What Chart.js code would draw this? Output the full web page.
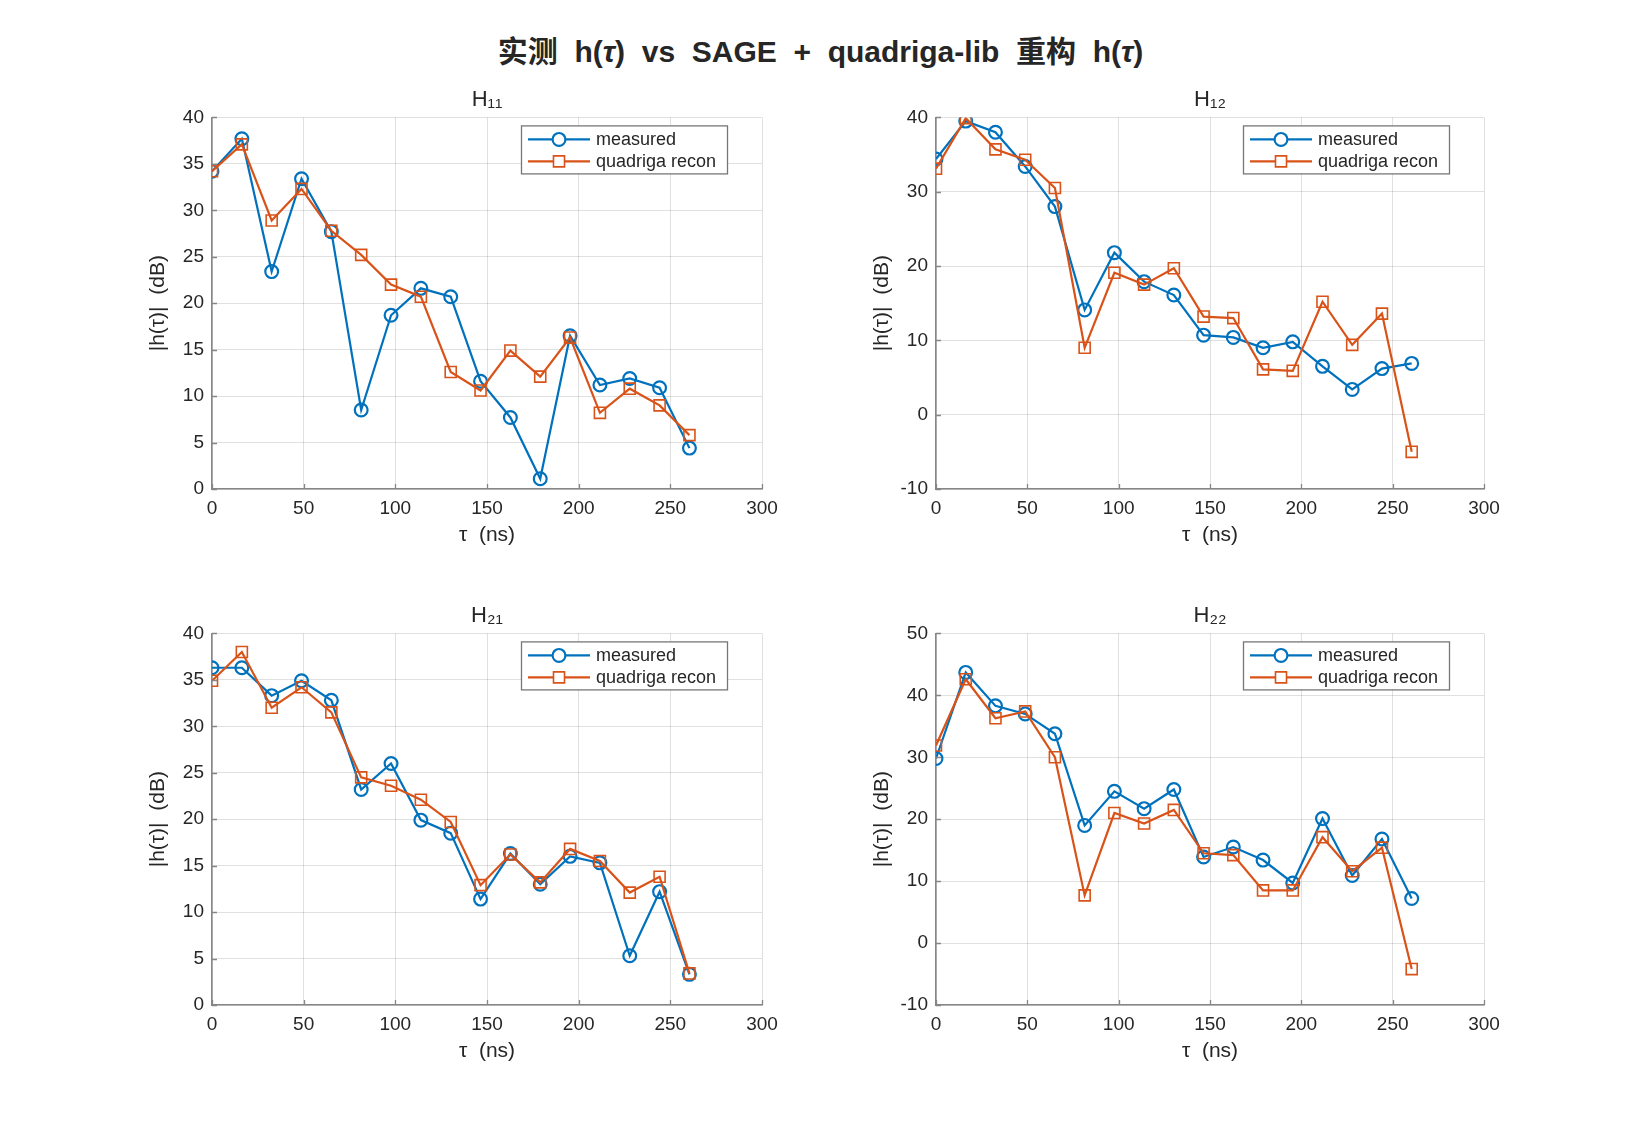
<!DOCTYPE html>
<html>
<head>
<meta charset="utf-8">
<script src="https://cdn.jsdelivr.net/npm/chart.js@4.4.1/dist/chart.umd.min.js"></script>
<style>
  body { margin: 0; background: #fff; }
  #page { position: relative; width: 1641px; height: 1126px; background: #fff; }
  #suptitle {
    position: absolute; left: 0; width: 1641px; top: 35px; text-align: center;
    font: bold 30px "Liberation Sans", "Noto Sans CJK SC", sans-serif; line-height: 34px;
    color: #262626; white-space: pre;
  }
  canvas { position: absolute; }
</style>
</head>
<body>
<div id="page">
  <div id="suptitle">实测  h(<i>τ</i>)  vs  SAGE  +  quadriga-lib  重构  h(<i>τ</i>)</div>
  <canvas id="c11" width="700" height="490" style="left:112px;top:70px"></canvas>
  <canvas id="c12" width="698" height="490" style="left:836px;top:70px"></canvas>
  <canvas id="c21" width="700" height="490" style="left:112px;top:586px"></canvas>
  <canvas id="c22" width="698" height="490" style="left:836px;top:586px"></canvas>
</div>
<script>
// delay axis (ns), 1/61.44 MHz steps
const tauNs = [0, 16.28, 32.55, 48.83, 65.10, 81.38, 97.66, 113.93, 130.21, 146.48, 162.76, 179.04, 195.31, 211.59, 227.86, 244.14, 260.42];

const h11Measured = [34.2, 37.7, 23.4, 33.4, 27.7, 8.5, 18.7, 21.6, 20.7, 11.6, 7.7, 1.1, 16.5, 11.2, 11.9, 10.9, 4.4];
const h11Recon    = [34.2, 37.1, 28.9, 32.3, 27.8, 25.2, 22.0, 20.7, 12.6, 10.6, 14.9, 12.1, 16.3, 8.2, 10.8, 9.0, 5.8];

const h12Measured = [34.4, 39.5, 38.0, 33.4, 28.0, 14.1, 21.8, 17.9, 16.1, 10.7, 10.4, 9.0, 9.8, 6.5, 3.4, 6.2, 6.9];
const h12Recon    = [33.1, 39.9, 35.7, 34.3, 30.5, 9.0, 19.1, 17.5, 19.7, 13.2, 13.0, 6.1, 5.9, 15.2, 9.4, 13.6, -5.0];

const h21Measured = [36.3, 36.3, 33.3, 34.9, 32.8, 23.2, 26.0, 19.9, 18.5, 11.4, 16.3, 13.0, 16.0, 15.3, 5.3, 12.2, 3.3];
const h21Recon    = [34.9, 38.0, 32.0, 34.2, 31.5, 24.5, 23.6, 22.1, 19.7, 12.9, 16.2, 13.2, 16.8, 15.5, 12.1, 13.8, 3.4];

const h22Measured = [29.8, 43.7, 38.3, 37.0, 33.8, 19.0, 24.5, 21.7, 24.8, 13.9, 15.5, 13.4, 9.7, 20.1, 10.9, 16.8, 7.2];
const h22Recon    = [31.9, 42.6, 36.3, 37.4, 30.0, 7.7, 21.0, 19.3, 21.5, 14.5, 14.2, 8.5, 8.5, 17.1, 11.6, 15.4, -4.2];

const panelIds    = ['c11', 'c12', 'c21', 'c22'];
const panelTitles = ['H₁₁', 'H₁₂', 'H₂₁', 'H₂₂'];
const measuredSets = [h11Measured, h12Measured, h21Measured, h22Measured];
const reconSets    = [h11Recon, h12Recon, h21Recon, h22Recon];
const yMins  = [0, -10, 0, -10];
const yMaxs  = [40, 40, 40, 50];
const ySteps = [5, 10, 5, 10];
const xMin = 0, xMax = 300, xStep = 50;
const seriesLabels = ['measured', 'quadriga recon'];

const FONT = '"Liberation Sans", Arial, sans-serif';
const TEXT = '#262626';
const AXIS = '#868686';
const GRID = 'rgba(38,38,38,0.14)';

function toPoints(ys) {
  return ys.map((y, i) => ({x: tauNs[i], y: y}));
}

// small inward tick marks, matlab style
const innerTicks = {
  id: 'innerTicks',
  afterDraw(chart) {
    const ctx = chart.ctx, a = chart.chartArea;
    const xs = chart.scales.x, ys = chart.scales.y;
    ctx.save();
    ctx.strokeStyle = AXIS;
    ctx.lineWidth = 1.3;
    ctx.beginPath();
    xs.ticks.forEach(t => {
      const px = Math.round(xs.getPixelForValue(t.value)) + 0.5;
      ctx.moveTo(px, a.bottom); ctx.lineTo(px, a.bottom - 5);
    });
    ys.ticks.forEach(t => {
      const py = Math.round(ys.getPixelForValue(t.value)) + 0.5;
      ctx.moveTo(a.left, py); ctx.lineTo(a.left + 5, py);
    });
    ctx.stroke();
    ctx.restore();
  }
};

// boxed legend inside the axes, top right
const boxLegend = {
  id: 'boxLegend',
  afterDraw(chart) {
    const ctx = chart.ctx, a = chart.chartArea;
    const w = 206, h = 48;
    const x0 = a.right - 35 - w, y0 = a.top + 8;
    ctx.save();
    ctx.fillStyle = '#fff';
    ctx.fillRect(x0, y0, w, h);
    ctx.strokeStyle = '#777';
    ctx.lineWidth = 1.3;
    ctx.strokeRect(x0 + 0.5, y0 + 0.5, w, h);
    chart.data.datasets.forEach((ds, i) => {
      const cy = y0 + 14 + i * 22;
      ctx.strokeStyle = ds.borderColor;
      ctx.lineWidth = 2.2;
      ctx.beginPath();
      ctx.moveTo(x0 + 7, cy); ctx.lineTo(x0 + 69, cy);
      ctx.stroke();
      ctx.fillStyle = '#fff';
      ctx.lineWidth = ds.pointBorderWidth;
      Chart.helpers.drawPoint(ctx, {
        pointStyle: ds.pointStyle, radius: ds.pointRadius, borderWidth: ds.pointBorderWidth
      }, x0 + 38, cy);
      ctx.fillStyle = TEXT;
      ctx.font = '18px ' + FONT;
      ctx.textBaseline = 'middle';
      ctx.fillText(ds.label, x0 + 75, cy + 1);
    });
    ctx.restore();
  }
};

panelIds.forEach((id, k) => {
  const ctx = document.getElementById(id).getContext('2d');
  new Chart(ctx, {
    type: 'line',
    data: {
      datasets: [{
        label: seriesLabels[0],
        data: toPoints(measuredSets[k]),
        borderColor: '#0072BD',
        borderWidth: 2.2,
        pointStyle: 'circle',
        pointRadius: 6.4,
        pointBorderWidth: 2.2,
        pointBackgroundColor: 'rgba(0,0,0,0)',
        pointBorderColor: '#0072BD',
        tension: 0,
        fill: false,
        order: 1
      }, {
        label: seriesLabels[1],
        data: toPoints(reconSets[k]),
        borderColor: '#D95319',
        borderWidth: 2.2,
        pointStyle: 'rect',
        pointRadius: 7.8,
        pointBorderWidth: 1.6,
        pointBackgroundColor: 'rgba(0,0,0,0)',
        pointBorderColor: '#D95319',
        tension: 0,
        fill: false,
        order: 0
      }]
    },
    options: {
      responsive: false,
      animation: false,
      devicePixelRatio: 1,
      layout: { padding: { left: 0, top: 17, right: 50, bottom: 0 } },
      plugins: {
        legend: { display: false },
        tooltip: { enabled: false },
        title: {
          display: true,
          text: panelTitles[k],
          fullSize: false,
          color: TEXT,
          font: { family: FONT, size: 22, weight: 'normal', lineHeight: 1.2 },
          padding: { top: 0, bottom: 4 }
        }
      },
      scales: {
        x: {
          type: 'linear',
          min: xMin, max: xMax,
          ticks: { stepSize: xStep, color: TEXT, padding: 8, maxRotation: 0,
                   font: { family: FONT, size: 19, lineHeight: 1.2 } },
          grid: { color: GRID, drawTicks: false },
          border: { color: AXIS, width: 1.6 },
          title: { display: true, text: 'τ  (ns)', color: TEXT,
                   font: { family: FONT, size: 21, lineHeight: 1.2 },
                   padding: { top: 0, bottom: 12 } },
          afterFit(s) { s.height = 71; }
        },
        y: {
          min: yMins[k], max: yMaxs[k],
          ticks: { stepSize: ySteps[k], color: TEXT, padding: 8,
                   font: { family: FONT, size: 19, lineHeight: 1.2 } },
          grid: { color: GRID, drawTicks: false },
          border: { color: AXIS, width: 1.6 },
          title: { display: true, text: '|h(τ)|  (dB)', color: TEXT,
                   font: { family: FONT, size: 21, lineHeight: 1.2 },
                   padding: { top: 34, bottom: 0 } },
          afterFit(s) { s.width = 100; }
        }
      }
    },
    plugins: [innerTicks, boxLegend]
  });
});
</script>
</body>
</html>
